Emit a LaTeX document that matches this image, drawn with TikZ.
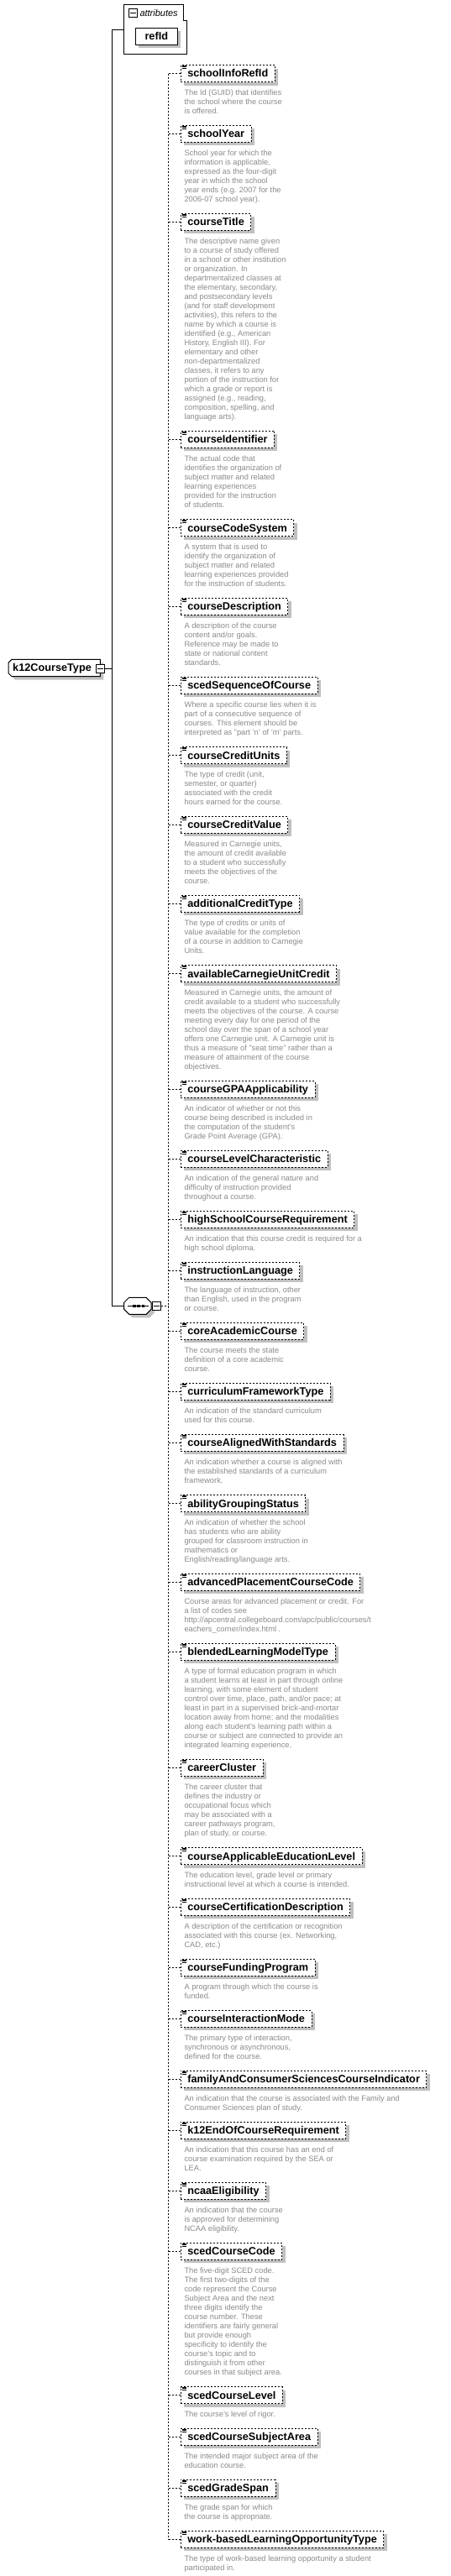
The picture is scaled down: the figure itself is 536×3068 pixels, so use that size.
\documentclass[tikz,border=0pt]{standalone}
\usepackage{fontspec}
\setmainfont{Liberation Sans}
\usetikzlibrary{shadows}
\definecolor{shadowgray}{RGB}{192,192,192}
\definecolor{descgray}{RGB}{138,138,138}
\newcommand\dstrut{\rule{0pt}{9pt}}
\newcommand\namefnt{\bfseries\fontsize{12.7pt}{14pt}\selectfont}
\newcommand\docicon[1]{%
  \foreach \dy in {0.9pt,2.4pt,3.9pt} {\draw[line width=0.6pt] ([xshift=1.7pt,yshift=-\dy]#1.north west) -- ++(5pt,0pt);}%
}
\newcommand\xelem[4]{%
  \node[elem] (#1) at (215,#2) {#3};
  \docicon{#1}
  \node[desc] (#1d) at (219.3,{#2+16.5}) {\dstrut#4};
  \draw[dline] (#1.west -| trunk) -- (#1.west);
}
\begin{document}
\begin{tikzpicture}[x=1pt,y=-1pt,
  elem/.style={draw, dash pattern=on 2pt off 2pt, line width=0.8pt, fill=white, minimum height=20pt, inner xsep=7.9pt, inner ysep=0pt, text height=11pt, text depth=2.4pt, anchor=west, font=\namefnt, general shadow={fill=shadowgray, shadow xshift=4pt, shadow yshift=-4pt}},
  desc/.style={anchor=north west, inner sep=0pt, align=left, text=descgray, font=\fontsize{9.3pt}{11pt}\selectfont},
  dline/.style={line width=0.8pt, dash pattern=on 2pt off 2pt},
  sline/.style={line width=1pt},
  minusbox/.style={draw, line width=1pt, fill=white, minimum size=10pt, inner sep=0pt}
]
\useasboundingbox (0,0) rectangle (536,3068);
\coordinate (mainx) at (133.3,0);
\coordinate (trunk) at (200.7,0);

% attributes group
\node[inner sep=0pt, minimum width=75pt, minimum height=59pt, anchor=north west] (attr) at (147.7,5.3) {};
\draw[sline] (147.7,5.3) -- (218.7,5.3) -- (218.7,24.3) -- (222.7,24.3) -- (222.7,64.3) -- (147.7,64.3) -- cycle;
\node[minusbox] (attrm) at (158,15.5) {};
\draw[sline] ([xshift=2pt]attrm.west) -- ([xshift=-2pt]attrm.east);
\node[anchor=west, inner sep=0pt, font=\itshape\fontsize{11pt}{13pt}\selectfont] (attrlbl) at (166.3,15.3) {attributes};
\node[draw, line width=1pt, fill=white, minimum width=50pt, minimum height=20.3pt, inner sep=0pt, text height=11pt, text depth=2.4pt, font=\namefnt, general shadow={fill=shadowgray, shadow xshift=4pt, shadow yshift=-4pt}] (refId) at (186.3,43.2) {refId};

% k12CourseType
\fill[shadowgray] (18,789.3) -- (123.3,789.3) -- (123.3,809.7) -- (18,809.7) -- (14,805.7) -- (14,793.3) -- cycle;
\draw[sline, fill=white] (14,785.3) -- (119.3,785.3) -- (119.3,805.7) -- (14,805.7) -- (10,801.7) -- (10,789.3) -- cycle;
\node[anchor=west, inner sep=0pt, font=\namefnt, text height=11pt, text depth=2.4pt] (k12) at (15,795.5) {k12CourseType};
\node[minusbox] (k12m) at (119.3,796) {};
\draw[sline] ([xshift=2pt]k12m.west) -- ([xshift=-2pt]k12m.east);
\draw[sline] (k12m.east) -- (k12m.east -| mainx);

% sequence
\fill[shadowgray] (157.7,1549.3) -- (178,1549.3) -- (184,1555.3) -- (184,1563.3) -- (178,1569.3) -- (157.7,1569.3) -- (151.7,1563.3) -- (151.7,1555.3) -- cycle;
\draw[sline, fill=white] (153.7,1545.3) -- (174,1545.3) -- (180,1551.3) -- (180,1559.3) -- (174,1565.3) -- (153.7,1565.3) -- (147.7,1559.3) -- (147.7,1551.3) -- cycle;
\node[inner sep=0pt, minimum width=32.3pt, minimum height=20pt] (seq) at (163.85,1555.3) {};
\draw[sline] (151.7,1555.3) -- (176.7,1555.3);
\fill (158.3,1553.7) rectangle (161.5,1556.9);
\fill (163.4,1553.7) rectangle (166.6,1556.9);
\fill (168.5,1553.7) rectangle (171.7,1556.9);
\node[minusbox] (seqm) at (186,1555.5) {};
\draw[sline] ([xshift=2pt]seqm.west) -- ([xshift=-2pt]seqm.east);
\draw[dline] (seqm.east) -- (seqm.east -| trunk);

% main solid line
\draw[sline] (attr.west) -- (attr.west -| mainx) -- (seq.west -| mainx) -- (seq.west);

% elements
\xelem{e1}{87.5}{schoolInfoRefId}{The Id (GUID) that identifies\\the school where the course\\is offered.}
\xelem{e2}{159.3}{schoolYear}{School year for which the\\information is applicable,\\expressed as the four-digit\\year in which the school\\year ends (e.g. 2007 for the\\2006-07 school year).}
\xelem{e3}{264.3}{courseTitle}{The descriptive name given\\to a course of study offered\\in a school or other institution\\or organization. In\\departmentalized classes at\\the elementary, secondary,\\and postsecondary levels\\(and for staff development\\activities), this refers to the\\name by which a course is\\identified (e.g., American\\History, English III). For\\elementary and other\\non-departmentalized\\classes, it refers to any\\portion of the instruction for\\which a grade or report is\\assigned (e.g., reading,\\composition, spelling, and\\language arts).}
\xelem{e4}{523.3}{courseIdentifier}{The actual code that\\identifies the organization of\\subject matter and related\\learning experiences\\provided for the instruction\\of students.}
\xelem{e5}{628.7}{courseCodeSystem}{A system that is used to\\identify the organization of\\subject matter and related\\learning experiences provided\\for the instruction of students.}
\xelem{e6}{722.3}{courseDescription}{A description of the course\\content and/or goals.\\Reference may be made to\\state or national content\\standards.}
\xelem{e7}{816.3}{scedSequenceOfCourse}{Where a specific course lies when it is\\part of a consecutive sequence of\\courses. This element should be\\interpreted as "part 'n' of 'm' parts.}
\xelem{e8}{899.7}{courseCreditUnits}{The type of credit (unit,\\semester, or quarter)\\associated with the credit\\hours earned for the course.}
\xelem{e9}{982.3}{courseCreditValue}{Measured in Carnegie units,\\the amount of credit available\\to a student who successfully\\meets the objectives of the\\course.}
\xelem{e10}{1076.3}{additionalCreditType}{The type of credits or units of\\value available for the completion\\of a course in addition to Carnegie\\Units.}
\xelem{e11}{1159.7}{availableCarnegieUnitCredit}{Measured in Carnegie units, the amount of\\credit available to a student who successfully\\meets the objectives of the course. A course\\meeting every day for one period of the\\school day over the span of a school year\\offers one Carnegie unit. A Carnegie unit is\\thus a measure of "seat time" rather than a\\measure of attainment of the course\\objectives.}
\xelem{e12}{1297.3}{courseGPAApplicability}{An indicator of whether or not this\\course being described is included in\\the computation of the student's\\Grade Point Average (GPA).}
\xelem{e13}{1380.3}{courseLevelCharacteristic}{An indication of the general nature and\\difficulty of instruction provided\\throughout a course.}
\xelem{e14}{1452.3}{highSchoolCourseRequirement}{An indication that this course credit is required for a\\high school diploma.}
\xelem{e15}{1513.3}{instructionLanguage}{The language of instruction, other\\than English, used in the program\\or course.}
\xelem{e16}{1585.3}{coreAcademicCourse}{The course meets the state\\definition of a core academic\\course.}
\xelem{e17}{1657.3}{curriculumFrameworkType}{An indication of the standard curriculum\\used for this course.}
\xelem{e18}{1718.3}{courseAlignedWithStandards}{An indication whether a course is aligned with\\the established standards of a curriculum\\framework.}
\xelem{e19}{1790.7}{abilityGroupingStatus}{An indication of whether the school\\has students who are ability\\grouped for classroom instruction in\\mathematics or\\English/reading/language arts.}
\xelem{e20}{1884.3}{advancedPlacementCourseCode}{Course areas for advanced placement or credit. For\\a list of codes see\\http://apcentral.collegeboard.com/apc/public/courses/t\\eachers\_corner/index.html .}
\xelem{e21}{1967.3}{blendedLearningModelType}{A type of formal education program in which\\a student learns at least in part through online\\learning, with some element of student\\control over time, place, path, and/or pace; at\\least in part in a supervised brick-and-mortar\\location away from home; and the modalities\\along each student's learning path within a\\course or subject are connected to provide an\\integrated learning experience.}
\xelem{e22}{2105.3}{careerCluster}{The career cluster that\\defines the industry or\\occupational focus which\\may be associated with a\\career pathways program,\\plan of study, or course.}
\xelem{e23}{2210.7}{courseApplicableEducationLevel}{The education level, grade level or primary\\instructional level at which a course is intended.}
\xelem{e24}{2271.3}{courseCertificationDescription}{A description of the certification or recognition\\associated with this course (ex. Networking,\\CAD, etc.)}
\xelem{e25}{2343.3}{courseFundingProgram}{A program through which the course is\\funded.}
\xelem{e26}{2404.3}{courseInteractionMode}{The primary type of interaction,\\synchronous or asynchronous,\\defined for the course.}
\xelem{e27}{2476.3}{familyAndConsumerSciencesCourseIndicator}{An indication that the course is associated with the Family and\\Consumer Sciences plan of study.}
\xelem{e28}{2537.3}{k12EndOfCourseRequirement}{An indication that this course has an end of\\course examination required by the SEA or\\LEA.}
\xelem{e29}{2609.3}{ncaaEligibility}{An indication that the course\\is approved for determining\\NCAA eligibility.}
\xelem{e30}{2681.3}{scedCourseCode}{The five-digit SCED code.\\The first two-digits of the\\code represent the Course\\Subject Area and the next\\three digits identify the\\course number. These\\identifiers are fairly general\\but provide enough\\specificity to identify the\\course's topic and to\\distinguish it from other\\courses in that subject area.}
\xelem{e31}{2852.7}{scedCourseLevel}{The course's level of rigor.}
\xelem{e32}{2902.3}{scedCourseSubjectArea}{The intended major subject area of the\\education course.}
\xelem{e33}{2963.3}{scedGradeSpan}{The grade span for which\\the course is appropriate.}
\xelem{e34}{3024.3}{work-basedLearningOpportunityType}{The type of work-based learning opportunity a student\\participated in.}

% dashed trunk
\draw[dline] (e1.west -| trunk) -- (e34.west -| trunk);
\end{tikzpicture}
\end{document}
